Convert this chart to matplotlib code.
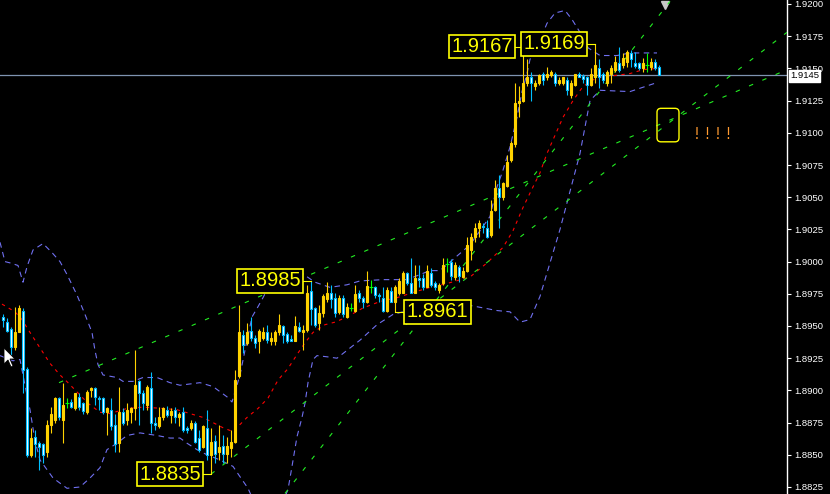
import matplotlib
matplotlib.use("Agg")
import matplotlib.pyplot as plt
from matplotlib.patches import FancyBboxPatch, Polygon

# candles, oldest first (one bar every 4 px on the original chart)
opens = [1.8957, 1.8953, 1.8948, 1.8934, 1.8945, 1.8962, 1.8917, 1.8850, 1.8864, 1.8859,
         1.8858, 1.8852, 1.8873, 1.8877, 1.8894, 1.8877, 1.8890, 1.8891, 1.8886, 1.8895,
         1.8890, 1.8883, 1.8900, 1.8902, 1.8894, 1.8894, 1.8883, 1.8885, 1.8873, 1.8859,
         1.8883, 1.8877, 1.8883, 1.8886, 1.8907, 1.8898, 1.8889, 1.8902, 1.8875, 1.8872,
         1.8879, 1.8885, 1.8881, 1.8885, 1.8879, 1.8883, 1.8871, 1.8871, 1.8875, 1.8863,
         1.8856, 1.8871, 1.8850, 1.8861, 1.8852, 1.8857, 1.8851, 1.8855, 1.8860, 1.8911,
         1.8943, 1.8937, 1.8946, 1.8941, 1.8938, 1.8941, 1.8945, 1.8938, 1.8938, 1.8945,
         1.8950, 1.8944, 1.8940, 1.8938, 1.8949, 1.8945, 1.8947, 1.8977, 1.8964, 1.8952,
         1.8960, 1.8971, 1.8976, 1.8972, 1.8961, 1.8972, 1.8957, 1.8964, 1.8962, 1.8976,
         1.8972, 1.8969, 1.8980, 1.8980, 1.8974, 1.8972, 1.8962, 1.8977, 1.8969, 1.8976,
         1.8976, 1.8991, 1.8983, 1.8976, 1.8987, 1.8987, 1.8980, 1.8991, 1.8983, 1.8978,
         1.8983, 1.8998, 1.9000, 1.8988, 1.8996, 1.8988, 1.8993, 1.9009, 1.9019, 1.9026,
         1.9028, 1.9026, 1.9021, 1.9040, 1.9057, 1.9050, 1.9059, 1.9079, 1.9091, 1.9123,
         1.9125, 1.9139, 1.9143, 1.9136, 1.9139, 1.9146, 1.9143, 1.9145, 1.9146, 1.9139,
         1.9139, 1.9141, 1.9129, 1.9137, 1.9146, 1.9144, 1.9143, 1.9137, 1.9143, 1.9150,
         1.9146, 1.9139, 1.9146, 1.9149, 1.9154, 1.9153, 1.9155, 1.9162, 1.9154, 1.9154,
         1.9150, 1.9153, 1.9151, 1.9155, 1.9151]
highs = [1.8959, 1.8956, 1.8949, 1.8965, 1.8966, 1.8964, 1.8918, 1.8871, 1.8869, 1.8861,
         1.8859, 1.8877, 1.8887, 1.8895, 1.8895, 1.8906, 1.8894, 1.8893, 1.8898, 1.8898,
         1.8891, 1.8900, 1.8903, 1.8903, 1.8896, 1.8895, 1.8887, 1.8894, 1.8882, 1.8903,
         1.8886, 1.8890, 1.8887, 1.8931, 1.8908, 1.8900, 1.8904, 1.8914, 1.8879, 1.8887,
         1.8887, 1.8888, 1.8886, 1.8887, 1.8883, 1.8887, 1.8872, 1.8877, 1.8876, 1.8869,
         1.8873, 1.8885, 1.8871, 1.8865, 1.8873, 1.8865, 1.8864, 1.8869, 1.8916, 1.8966,
         1.8947, 1.8952, 1.8957, 1.8943, 1.8948, 1.8949, 1.8951, 1.8945, 1.8947, 1.8959,
         1.8951, 1.8945, 1.8943, 1.8958, 1.8953, 1.8951, 1.8982, 1.8985, 1.8965, 1.8966,
         1.8975, 1.8984, 1.8982, 1.8976, 1.8974, 1.8974, 1.8968, 1.8968, 1.8982, 1.8978,
         1.8973, 1.8993, 1.8986, 1.8981, 1.8976, 1.8980, 1.8980, 1.8980, 1.8982, 1.8987,
         1.8993, 1.8992, 1.9003, 1.8997, 1.8997, 1.8990, 1.8997, 1.8995, 1.8985, 1.8983,
         1.9003, 1.9003, 1.9002, 1.9000, 1.8997, 1.8996, 1.9019, 1.9022, 1.9030, 1.9032,
         1.9030, 1.9032, 1.9048, 1.9063, 1.9067, 1.9062, 1.9083, 1.9094, 1.9139, 1.9136,
         1.9167, 1.9157, 1.9147, 1.9141, 1.9146, 1.9147, 1.9151, 1.9149, 1.9147, 1.9143,
         1.9143, 1.9143, 1.9141, 1.9146, 1.9147, 1.9146, 1.9144, 1.9150, 1.9169, 1.9157,
         1.9147, 1.9149, 1.9153, 1.9160, 1.9167, 1.9162, 1.9164, 1.9164, 1.9163, 1.9155,
         1.9158, 1.9162, 1.9158, 1.9157, 1.9153]
lows = [1.8949, 1.8945, 1.8927, 1.8931, 1.8945, 1.8898, 1.8848, 1.8848, 1.8848, 1.8838,
        1.8844, 1.8848, 1.8867, 1.8875, 1.8877, 1.8859, 1.8886, 1.8886, 1.8885, 1.8885,
        1.8882, 1.8882, 1.8895, 1.8889, 1.8885, 1.8882, 1.8865, 1.8869, 1.8852, 1.8852,
        1.8873, 1.8873, 1.8875, 1.8877, 1.8873, 1.8885, 1.8885, 1.8867, 1.8869, 1.8871,
        1.8877, 1.8879, 1.8875, 1.8875, 1.8872, 1.8868, 1.8867, 1.8869, 1.8859, 1.8852,
        1.8855, 1.8846, 1.8835, 1.8844, 1.8846, 1.8844, 1.8844, 1.8848, 1.8859, 1.8910,
        1.8929, 1.8935, 1.8938, 1.8933, 1.8929, 1.8939, 1.8937, 1.8935, 1.8935, 1.8943,
        1.8937, 1.8937, 1.8938, 1.8938, 1.8945, 1.8931, 1.8945, 1.8951, 1.8949, 1.8947,
        1.8957, 1.8969, 1.8964, 1.8957, 1.8959, 1.8957, 1.8956, 1.8962, 1.8961, 1.8969,
        1.8964, 1.8968, 1.8976, 1.8972, 1.8969, 1.8961, 1.8961, 1.8969, 1.8961, 1.8974,
        1.8976, 1.8982, 1.8976, 1.8976, 1.8980, 1.8978, 1.8980, 1.8980, 1.8978, 1.8976,
        1.8982, 1.8992, 1.8986, 1.8986, 1.8984, 1.8987, 1.8992, 1.9001, 1.9015, 1.9019,
        1.9022, 1.9018, 1.9019, 1.9039, 1.9026, 1.9048, 1.9058, 1.9077, 1.9089, 1.9112,
        1.9124, 1.9136, 1.9125, 1.9133, 1.9137, 1.9137, 1.9141, 1.9143, 1.9136, 1.9137,
        1.9137, 1.9129, 1.9127, 1.9136, 1.9143, 1.9139, 1.9129, 1.9136, 1.9139, 1.9135,
        1.9139, 1.9136, 1.9139, 1.9147, 1.9147, 1.9150, 1.9151, 1.9151, 1.9150, 1.9149,
        1.9147, 1.9147, 1.9149, 1.9149, 1.9145]
closes = [1.8955, 1.8946, 1.8934, 1.8945, 1.8964, 1.8916, 1.8850, 1.8863, 1.8858, 1.8856,
          1.8850, 1.8873, 1.8882, 1.8894, 1.8879, 1.8889, 1.8890, 1.8887, 1.8898, 1.8887,
          1.8884, 1.8899, 1.8902, 1.8895, 1.8893, 1.8883, 1.8886, 1.8872, 1.8858, 1.8883,
          1.8875, 1.8885, 1.8886, 1.8904, 1.8898, 1.8890, 1.8903, 1.8875, 1.8873, 1.8879,
          1.8886, 1.8881, 1.8884, 1.8879, 1.8882, 1.8869, 1.8869, 1.8875, 1.8860, 1.8854,
          1.8872, 1.8850, 1.8860, 1.8851, 1.8856, 1.8851, 1.8857, 1.8860, 1.8908, 1.8945,
          1.8935, 1.8945, 1.8941, 1.8937, 1.8946, 1.8945, 1.8939, 1.8941, 1.8945, 1.8951,
          1.8943, 1.8938, 1.8938, 1.8950, 1.8946, 1.8947, 1.8976, 1.8963, 1.8951, 1.8960,
          1.8973, 1.8976, 1.8971, 1.8960, 1.8972, 1.8959, 1.8965, 1.8964, 1.8975, 1.8972,
          1.8969, 1.8981, 1.8980, 1.8974, 1.8973, 1.8962, 1.8978, 1.8969, 1.8980, 1.8985,
          1.8991, 1.8983, 1.8976, 1.8987, 1.8986, 1.8980, 1.8993, 1.8982, 1.8980, 1.8982,
          1.8997, 1.8998, 1.8989, 1.8997, 1.8989, 1.8993, 1.9013, 1.9019, 1.9026, 1.9030,
          1.9027, 1.9019, 1.9039, 1.9057, 1.9050, 1.9061, 1.9077, 1.9092, 1.9123, 1.9125,
          1.9139, 1.9143, 1.9139, 1.9139, 1.9145, 1.9141, 1.9146, 1.9147, 1.9139, 1.9141,
          1.9143, 1.9133, 1.9139, 1.9146, 1.9143, 1.9142, 1.9137, 1.9146, 1.9153, 1.9143,
          1.9141, 1.9147, 1.9150, 1.9155, 1.9149, 1.9158, 1.9163, 1.9157, 1.9152, 1.9150,
          1.9154, 1.9153, 1.9155, 1.9150, 1.9145]

# moving average (red) at some bars
ma_idx = [-0.25, 3, 4.75, 6.75, 9.25, 11.75, 14.25, 16.25, 18.75, 21.25, 24.25, 26.75, 31, 35,
          40, 43.5, 46.75, 50, 52.5, 55, 57.5, 61, 63.75, 66.25, 68.75, 71.25, 73.75, 75.5,
          77.5, 80.5, 83, 86, 90, 94.25, 98.5, 102.5, 106.75, 111, 116.75, 121, 125, 127.5,
          130, 132.5, 134.25, 136, 140, 142.5, 145, 148.5, 151.75, 156.75, 160, 163.5]
ma_val = [1.8967, 1.8961, 1.8955, 1.8945, 1.8933, 1.8921, 1.8912, 1.8906, 1.8898, 1.8890,
          1.8883, 1.8882, 1.8886, 1.8887, 1.8886, 1.8885, 1.8882, 1.8879, 1.8875, 1.8871,
          1.8868, 1.8879, 1.8886, 1.8894, 1.8908, 1.8917, 1.8929, 1.8937, 1.8945, 1.8951,
          1.8953, 1.8957, 1.8964, 1.8969, 1.8972, 1.8976, 1.8980, 1.8983, 1.8988, 1.8999,
          1.9011, 1.9024, 1.9042, 1.9058, 1.9069, 1.9084, 1.9112, 1.9125, 1.9136, 1.9143,
          1.9144, 1.9146, 1.9149, 1.9150]

# bollinger bands (blue)
up_idx = [-0.75, 0.5, 1.75, 3.75, 5, 6, 7.5, 10, 12.25, 14.25, 16, 18.5, 20.5, 22.25, 23,
          23.75, 25, 28.5, 30, 32.5, 35, 38.5, 41.75, 44.25, 49.25, 52.5, 56, 57.25, 59.25,
          60.75, 62.25, 63.75, 65, 66, 69.25, 72.25, 74.25, 78, 81.75, 86, 89.25, 95, 101,
          106.75, 109.25, 112.25, 116.75, 121.75, 123.5, 125, 126.75, 128.5, 129.75, 131,
          131.75, 134.25, 136, 138, 140.5, 142.25, 144.25, 146.25, 149.25, 153.5, 156.75, 163.5]
up_val = [1.9015, 1.9000, 1.8999, 1.8997, 1.8984, 1.8996, 1.9009, 1.9014, 1.9007, 1.9000,
          1.8990, 1.8974, 1.8959, 1.8945, 1.8931, 1.8920, 1.8912, 1.8910, 1.8907, 1.8907,
          1.8910, 1.8910, 1.8906, 1.8904, 1.8906, 1.8903, 1.8895, 1.8891, 1.8912, 1.8935,
          1.8957, 1.8965, 1.8972, 1.8978, 1.8990, 1.8993, 1.8992, 1.8984, 1.8980, 1.8982,
          1.8985, 1.8986, 1.8986, 1.8993, 1.8993, 1.9001, 1.9013, 1.9035, 1.9058, 1.9071,
          1.9089, 1.9112, 1.9132, 1.9146, 1.9157, 1.9172, 1.9185, 1.9193, 1.9195, 1.9188,
          1.9178, 1.9166, 1.9160, 1.9160, 1.9162, 1.9162]
lo_idx = [-0.75, 2.5, 4.25, 5.5, 6.75, 8, 9.25, 12.5, 16, 19.25, 21.75, 24.25, 26, 28.5, 31,
          34.25, 38.5, 41.75, 44.25, 46, 48.5, 51, 54.25, 57.5, 59.25, 61.25, 64.25, 68,
          71.25, 72.25, 73.5, 74.75, 75.5, 76.25, 77.5, 78.5, 81.25, 83.5, 89.25, 93.5, 97.5,
          100, 106.75, 116.75, 123.5, 126.75, 129.25, 131.75, 134.25, 139.25, 144.25, 146.75,
          149.25, 156.75, 163.5]
lo_val = [1.8927, 1.8923, 1.8924, 1.8904, 1.8885, 1.8861, 1.8846, 1.8832, 1.8824, 1.8825,
          1.8832, 1.8840, 1.8854, 1.8859, 1.8865, 1.8867, 1.8865, 1.8863, 1.8863, 1.8859,
          1.8854, 1.8850, 1.8846, 1.8841, 1.8833, 1.8824, 1.8803, 1.8799, 1.8823, 1.8841,
          1.8864, 1.8879, 1.8890, 1.8906, 1.8924, 1.8927, 1.8926, 1.8925, 1.8939, 1.8951,
          1.8959, 1.8961, 1.8964, 1.8966, 1.8962, 1.8961, 1.8953, 1.8955, 1.8973, 1.9025,
          1.9084, 1.9125, 1.9133, 1.9132, 1.9139]

# trend lines (green), two anchor points each
trend_idx = [(14, 196), (52, 196), (70.5, 166.75)]
trend_val = [(1.8906, 1.9149), (1.8835, 1.9178), (1.8820, 1.9202)]

# swing labels: text, bar it points at, price, where the box sits (bar units)
swing_text = ["1.9167", "1.9169", "1.8985", "1.8961", "1.8835"]
swing_bar = [130, 148, 77, 98, 52]
swing_price = [1.9167, 1.9169, 1.8985, 1.8961, 1.8835]
swing_box_x = [119.75, 137.75, 66.75, 108.6, 41.75]

last_price = 1.9145
ticks = [1.8825 + 0.0025 * i for i in range(16)]

BULL = "#FFD200"
BEAR = "#00BFFF"
DOJI = "#00FF00"

fig = plt.figure(figsize=(8.3, 4.94), dpi=100, facecolor="black")
ax = fig.add_axes([0, 0, 787 / 830, 1])
ax.set_facecolor("black")
ax.set_xlim(-0.75, 196)
ax.set_ylim(1.92 - 490 / 12880, 1.92 + 4 / 12880)

for s in ["top", "bottom", "left"]:
    ax.spines[s].set_visible(False)
ax.spines["right"].set_color("white")
ax.spines["right"].set_linewidth(1)
ax.set_xticks([])
ax.yaxis.tick_right()
ax.set_yticks(ticks)
ax.set_yticklabels(["%.4f" % t for t in ticks])
ax.tick_params(axis="y", colors="white", length=3, width=0.8, pad=2, labelsize=6.8)
for lab in ax.get_yticklabels():
    lab.set_family("Liberation Sans")

# current price line
ax.axhline(last_price, color="#7F93B0", lw=0.9, zorder=2)

# indicators
ax.plot(up_idx, up_val, color="#7070F0", lw=0.8, ls=(0, (5, 4)), zorder=3)
ax.plot(lo_idx, lo_val, color="#7070F0", lw=0.8, ls=(0, (5, 4)), zorder=3)
ax.plot(ma_idx, ma_val, color="#FF0000", lw=0.8, ls=(0, (3, 4)), zorder=3)
for xs, ys in zip(trend_idx, trend_val):
    ax.plot(xs, ys, color="#22EE22", lw=0.8, ls=(0, (4, 9)), zorder=3)

# candles
for i in range(len(opens)):
    o, h, l, c = opens[i], highs[i], lows[i], closes[i]
    if c > o:
        col, face = BULL, BULL
    elif c < o:
        col, face = BEAR, "white"
    else:
        col, face = DOJI, DOJI
    ax.vlines(i, l, h, colors=col, lw=0.8, zorder=4)
    if c == o:
        ax.hlines(o, i - 0.4, i + 0.4, colors=col, lw=0.8, zorder=5)
    else:
        ax.bar(i, abs(c - o), bottom=min(o, c), width=0.62, color=face,
               edgecolor=col, linewidth=0.8, zorder=5)

# swing high / low labels
for txt, b, p, bx in zip(swing_text, swing_bar, swing_price, swing_box_x):
    ax.plot([bx, b], [p, p], color="#FFFF00", lw=0.8, zorder=6)
    ax.text(bx, p, txt, color="#FFFF00", fontsize=14.5, family="Liberation Sans",
            ha="center", va="center", zorder=7,
            bbox=dict(boxstyle="square,pad=0.12", fc="black", ec="#FFFF00", lw=1.2))

# current price tag on the scale
ax.annotate("%.4f" % last_price, xy=(1.0, last_price), xycoords=("axes fraction", "data"),
            xytext=(3, -1), textcoords="offset pixels", ha="left", va="center",
            fontsize=6.8, family="Liberation Sans", color="black", zorder=10,
            annotation_clip=False,
            bbox=dict(boxstyle="square,pad=0.15", fc="white", ec="white"))

# hand drawn marks on the right
x0, y0 = ax.transData.transform((163.5, 1.9093))
x1, y1 = ax.transData.transform((169.0, 1.9119))
fig.patches.append(FancyBboxPatch((x0, y0), x1 - x0, y1 - y0, boxstyle="round,pad=0,rounding_size=4",
                                  fc="none", ec="#FFFF00", lw=1, transform=None))
ax.text(177.5, 1.9099, "! ! ! !", color="#FF9A30", fontsize=10.5, ha="center", va="center",
        family="DejaVu Sans")
ax.plot([165.5], [1.9199], marker="v", color="#C8C8C8", ms=6, clip_on=False)

# mouse pointer
fig.patches.append(Polygon([(4, 146), (4, 130), (8, 134), (11, 127), (13, 128), (10, 135), (15, 135)],
                           closed=True, fc="white", ec="black", lw=0.6, transform=None))

fig.savefig("out.png", dpi=100, facecolor="black")
